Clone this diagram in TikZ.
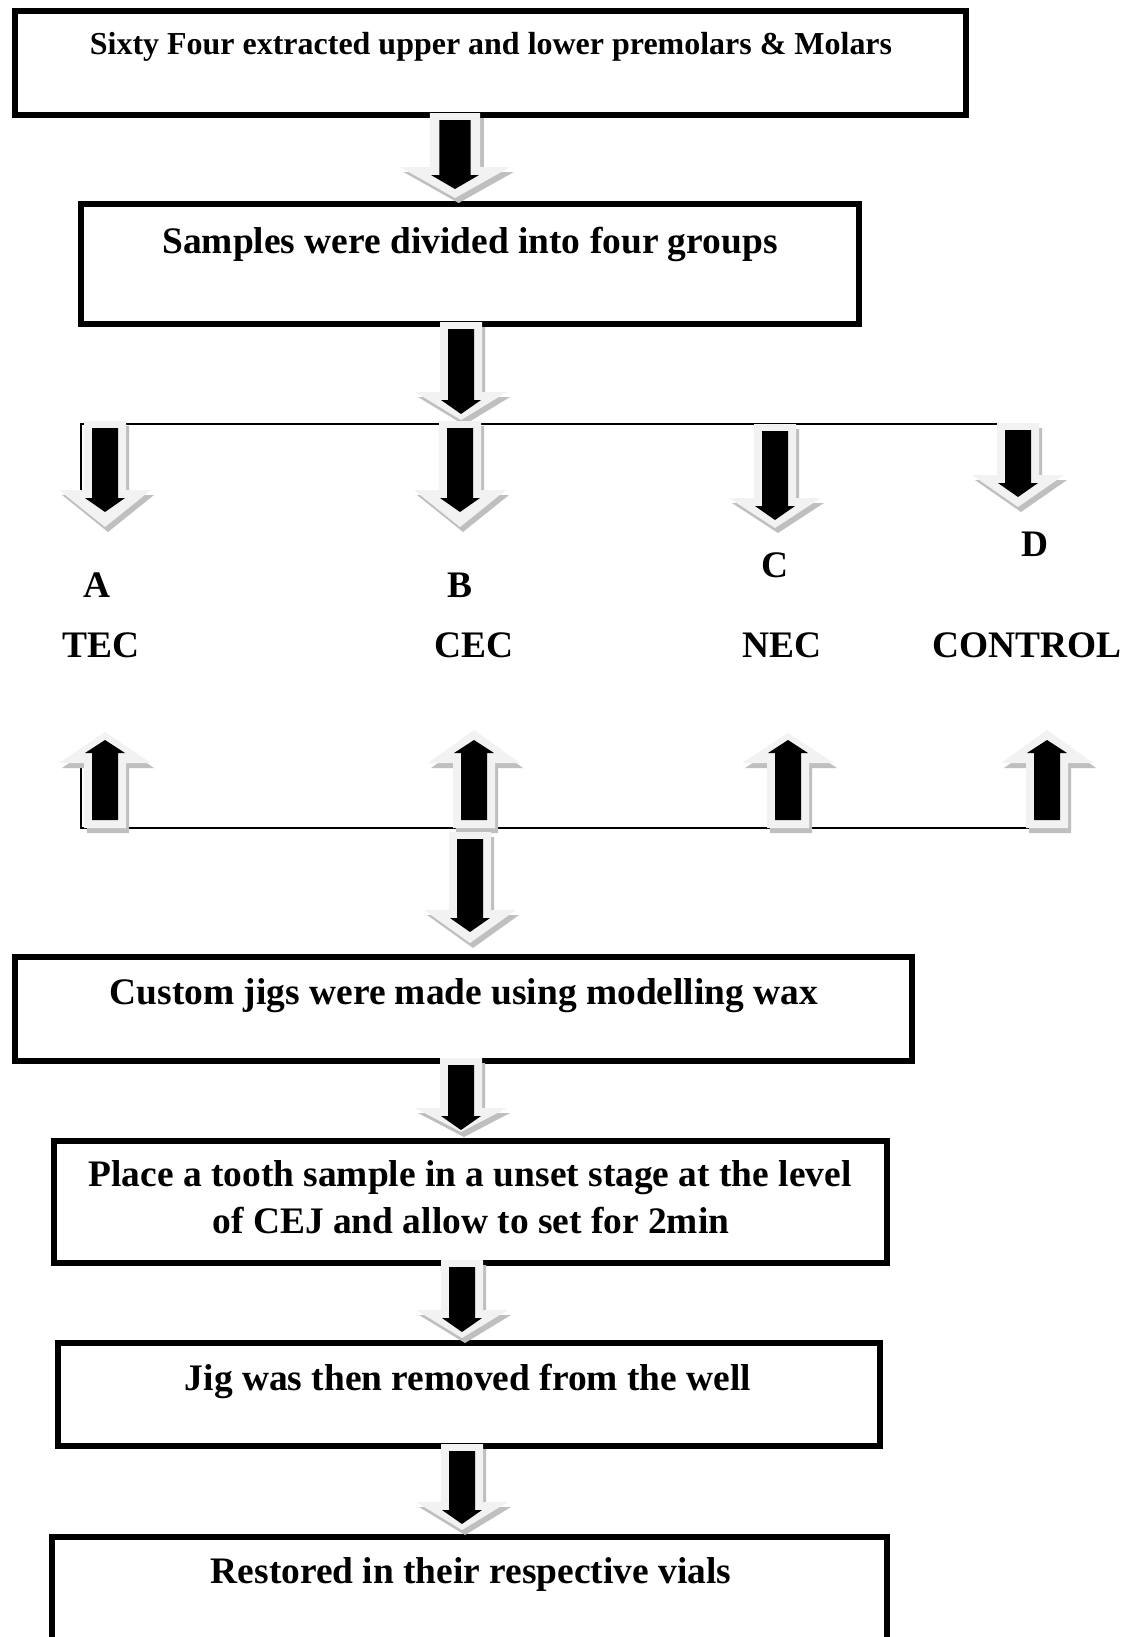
\documentclass[tikz,border=0pt]{standalone}
\usepackage{fontspec}
\setmainfont{Liberation Serif}
\definecolor{arrowface}{HTML}{F2F2F2}
\definecolor{arrowshade}{HTML}{BFBFBF}
\newcommand{\DownBlk}[5][1]{% [xscale] x, top, head base, tip
  \begin{scope}[shift={(#2,0)},xscale=#1]
    \fill[arrowshade,shift={(3,5)}] (-21,#3) -- (21,#3) -- (21,#4) -- (46,#4) -- (0,#5) -- (-46,#4) -- (-21,#4) -- cycle;
    \fill[arrowface] (-21,#3) -- (21,#3) -- (21,#4) -- (46,#4) -- (0,#5) -- (-46,#4) -- (-21,#4) -- cycle;
    \fill[black] (-13,{#3+7}) -- (13,{#3+7}) -- (13,{#4+8}) -- (20,{#4+8}) -- (0,{#4+22}) -- (-20,{#4+8}) -- (-13,{#4+8}) -- cycle;
  \end{scope}}
\newcommand{\UpBlk}[4]{% x, tip, head base, bottom
  \begin{scope}[shift={(#1,0)}]
    \fill[arrowshade,shift={(3,5)}] (-21,#4) -- (21,#4) -- (21,#3) -- (46,#3) -- (0,#2) -- (-46,#3) -- (-21,#3) -- cycle;
    \fill[arrowface] (-21,#4) -- (21,#4) -- (21,#3) -- (46,#3) -- (0,#2) -- (-46,#3) -- (-21,#3) -- cycle;
    \fill[black] (-13,{#4-8}) -- (13,{#4-8}) -- (13,{#3-10}) -- (20,{#3-10}) -- (0,{#3-23}) -- (-20,{#3-10}) -- (-13,{#3-10}) -- cycle;
  \end{scope}}
\begin{document}
\begin{tikzpicture}[x=0.02cm,y=-0.02cm,
  box/.style={draw=black,line width=3pt,fill=white,inner sep=0pt},
  txt/.style={inner sep=0pt,anchor=base,font=\fontsize{21.3}{26}\selectfont\bfseries},
  smalltxt/.style={inner sep=0pt,anchor=base,font=\fontsize{18.2}{22}\selectfont\bfseries},
  thin/.style={line width=1.1pt}]
\useasboundingbox (0,0) rectangle (1139,1637);
\fill[white] (0,0) rectangle (1139,1637);

% boxes
\node[box,line width=3.5pt,minimum width=19.02cm,minimum height=2.08cm] (b1) at (490.5,63) {};
\node[box,minimum width=15.56cm,minimum height=2.4cm] (b2) at (470,264) {};
\node[box,minimum width=17.94cm,minimum height=2.08cm] (b3) at (463.5,1009) {};
\node[box,minimum width=16.66cm,minimum height=2.44cm] (b4) at (470.5,1202) {};
\node[box,minimum width=16.44cm,minimum height=2.06cm] (b5) at (469,1394.5) {};
\node[box,minimum width=16.7cm,minimum height=2.86cm] (b6) at (469.5,1608.5) {};

% texts
\node[smalltxt] (t1) at (491,54) {Sixty Four extracted upper and lower premolars \& Molars};
\node[txt] (t2) at (470,253) {Samples were divided into four groups};
\node[txt] (t3) at (464,1004) {Custom jigs were made using modelling wax};
\node[txt] (t4a) at (470,1186) {Place a tooth sample in a unset stage at the level};
\node[txt] (t4b) at (471,1233) {of CEJ and allow to set for 2min};
\node[txt] (t5) at (468,1390) {Jig was then removed from the well};
\node[txt] (t6) at (471,1583) {Restored in their respective vials};

% group labels
\node[txt] (la) at (97,597) {A};
\node[txt] (lb) at (460,597) {B};
\node[txt] (lc) at (775,577) {C};
\node[txt] (ld) at (1035,556) {D};
\node[txt] (ga) at (101,657) {TEC};
\node[txt] (gb) at (474,657) {CEC};
\node[txt] (gc) at (782,657) {NEC};
\node[txt] (gd) at (1027,657) {CONTROL};

% branching lines
\coordinate (tl0) at (81,490);
\coordinate (tl1) at (81,424);
\coordinate (tl2) at (998,424);
\coordinate (bl0) at (81,763);
\coordinate (bl1) at (81,828);
\coordinate (bl2) at (1068,828);
\draw[thin] (tl0) -- (tl1) -- (tl2);
\draw[thin] (bl0) -- (bl1) -- (bl2);

% block arrows
\DownBlk[1.2]{455}{113}{167}{198}
\DownBlk{461}{322}{392}{420}
\DownBlk{105}{421}{490}{527}
\DownBlk{460}{421}{490}{527}
\DownBlk{775}{424}{498}{528}
\DownBlk{1018}{423}{475}{507}
\UpBlk{105}{732}{763}{828}
\UpBlk{474}{730}{763}{828}
\UpBlk{788}{733}{763}{828}
\UpBlk{1047}{730}{763}{828}
\DownBlk{470}{832}{910}{943}
\DownBlk{461}{1058}{1108}{1132}
\DownBlk{462}{1260}{1310}{1338}
\DownBlk{462}{1444}{1502}{1530}
\end{tikzpicture}
\end{document}
